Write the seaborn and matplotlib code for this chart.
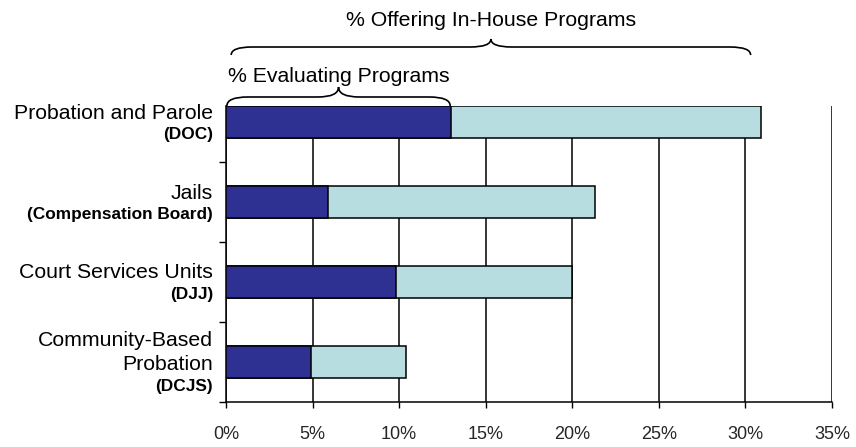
import matplotlib
matplotlib.use("Agg")
import matplotlib.pyplot as plt
import matplotlib.transforms as mtransforms
from matplotlib.path import Path
from matplotlib.patches import PathPatch
import seaborn as sns
import pandas as pd

# ---- data ----
categories = ["Probation and Parole", "Jails", "Court Services Units", "Community-Based\nProbation"]
agencies = ["(DOC)", "(Compensation Board)", "(DJJ)", "(DCJS)"]
offering = [30.9, 21.3, 20.0, 10.4]      # % offering in-house programs
evaluating = [13.0, 5.9, 9.8, 4.9]       # % evaluating programs
xticks = [0, 5, 10, 15, 20, 25, 30, 35]
xticklabels = ["0%", "5%", "10%", "15%", "20%", "25%", "30%", "35%"]

DARK = "#2E3192"
LIGHT = "#B8DDE0"

sns.set_theme(style="white")
plt.rcParams["font.family"] = ["Liberation Sans", "DejaVu Sans"]

W, H = 856, 447
fig = plt.figure(figsize=(W / 100, H / 100), dpi=100)
L, R, T, B = 226, 832, 106, 402
ax = fig.add_axes([L / W, (H - B) / H, (R - L) / W, (B - T) / H])

df = pd.DataFrame({"cat": categories, "offering": offering, "evaluating": evaluating})

sns.barplot(data=df, y="cat", x="offering", color=LIGHT, orient="h", width=0.41,
            edgecolor="black", linewidth=1.1, saturation=1, ax=ax, zorder=3)
sns.barplot(data=df, y="cat", x="evaluating", color=DARK, orient="h", width=0.41,
            edgecolor="black", linewidth=1.1, saturation=1, ax=ax, zorder=4)

ax.set_xlim(0, 35)
ax.set_ylim(3.5, -0.2)
ax.set_xlabel("")
ax.set_ylabel("")

ax.set_xticks(xticks)
ax.set_xticklabels(xticklabels, fontsize=13)
ax.tick_params(axis="x", direction="out", length=4.5, width=1, color="black", pad=13)
ax.set_yticks([0.5, 1.5, 2.5, 3.5])
ax.set_yticklabels([])
ax.tick_params(axis="y", direction="out", length=5, width=1, color="black")
ax.tick_params(axis="both", which="both", bottom=True, left=True)

ax.grid(axis="x", color="black", linewidth=1.1)
ax.grid(axis="y", visible=False)
ax.set_axisbelow(True)
for s in ["top", "right"]:
    ax.spines[s].set_visible(False)
for s in ["left", "bottom"]:
    ax.spines[s].set_color("black")
    ax.spines[s].set_linewidth(1.1)

# category labels (main + bold agency), block centred on bar
main_h, bold_h = 24, 18  # px line heights
for i, (cat, ag) in enumerate(zip(categories, agencies)):
    lines = cat.split("\n")
    total = len(lines) * main_h + bold_h
    y0 = -total / 2
    for j, ln in enumerate(lines):
        off = y0 + main_h * j + main_h / 2
        ax.annotate(ln, xy=(0, i), xycoords=("axes fraction", "data"),
                    xytext=(-13 * 0.72, -off * 0.72), textcoords="offset points",
                    ha="right", va="center", fontsize=15.3, color="black")
    off = y0 + main_h * len(lines) + bold_h / 2
    ax.annotate(ag, xy=(0, i), xycoords=("axes fraction", "data"),
                xytext=(-13 * 0.72, -off * 0.72), textcoords="offset points",
                ha="right", va="center", fontsize=12.4, fontweight="bold", color="black")

# braces
trans = mtransforms.blended_transform_factory(ax.transData, ax.transAxes)
def fy(py):
    return (B - py) / (B - T)

def brace(x0, x1, y_end, y_arm, y_tip):
    xm = (x0 + x1) / 2
    d = 1.2
    verts = [(x0, fy(y_end)), (x0, fy(y_arm)), (x0 + d, fy(y_arm)),
             (xm - d, fy(y_arm)),
             (xm, fy(y_arm)), (xm, fy(y_tip)),
             (xm, fy(y_arm)), (xm + d, fy(y_arm)),
             (x1 - d, fy(y_arm)),
             (x1, fy(y_arm)), (x1, fy(y_end))]
    codes = [Path.MOVETO, Path.CURVE3, Path.CURVE3,
             Path.LINETO,
             Path.CURVE3, Path.CURVE3,
             Path.CURVE3, Path.CURVE3,
             Path.LINETO,
             Path.CURVE3, Path.CURVE3]
    p = PathPatch(Path(verts, codes), transform=trans, fill=False,
                  edgecolor="black", linewidth=1.2, clip_on=False)
    ax.add_patch(p)

brace(0.05, evaluating[0] - 0.05, 106, 97, 87)
brace(0.3, offering[0] - 0.6, 55, 47, 39)

ax.text(evaluating[0] / 2, fy(76), "% Evaluating Programs", transform=trans,
        ha="center", va="center", fontsize=15.3, color="black", clip_on=False)
ax.text((0.3 + offering[0] - 0.6) / 2, fy(20), "% Offering In-House Programs", transform=trans,
        ha="center", va="center", fontsize=15.3, color="black", clip_on=False)

fig.savefig("out.png", dpi=100, facecolor="white")
